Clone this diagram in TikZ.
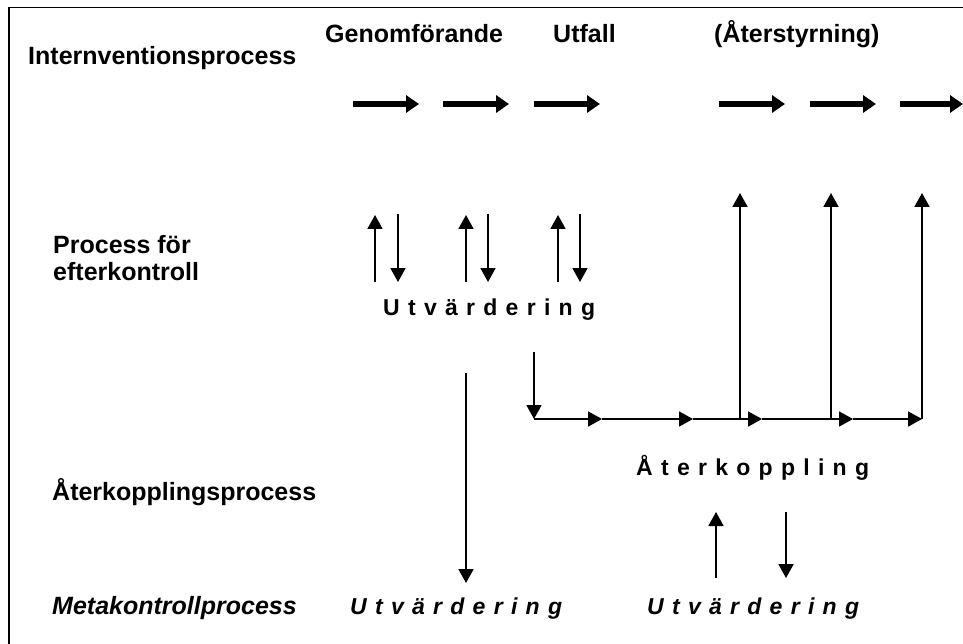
\documentclass[tikz,border=0pt]{standalone}
\usepackage{fontspec}
\setmainfont{Liberation Sans}
\newfontfamily\spacedfont[LetterSpace=36]{Liberation Sans}
\usetikzlibrary{arrows.meta}
\begin{document}
\begin{tikzpicture}[x=1pt,y=-1pt,
  lbl/.style={anchor=base west, inner sep=0pt, font=\fontsize{25}{22}\selectfont\bfseries},
  lblit/.style={anchor=base west, inner sep=0pt, font=\fontsize{25}{22}\selectfont\bfseries\itshape},
  sp/.style={anchor=base west, inner sep=0pt, font=\spacedfont\fontsize{23}{23}\selectfont\bfseries},
  spit/.style={anchor=base west, inner sep=0pt, font=\spacedfont\fontsize{23}{23}\selectfont\bfseries\itshape},
  bigarrow/.style={line width=6pt, -{Triangle[length=13pt,width=17pt]}},
  thinarrow/.style={line width=1.8pt, -{Triangle[length=14pt,width=15pt]}},
  thinline/.style={line width=1.8pt},
  frameline/.style={line width=1.4pt}]
\useasboundingbox (0,0) rectangle (963,644);
% frame
\coordinate (fc) at (9,7.5);
\coordinate (fr) at (963,7.5);
\coordinate (fb) at (9,644);
\draw[frameline] (fr) -- (fc) -- (fb);
% labels
\node[lbl] (intv) at (28,65) {Internventionsprocess};
\node[lbl] (genom) at (325,43) {Genomförande};
\node[lbl] (utfall) at (553,43) {Utfall};
\node[lbl] (ater) at (714,43) {(Återstyrning)};
\node[lbl] (proc1) at (53,254) {Process för};
\node[lbl] (proc2) at (53,280) {efterkontroll};
\node[lbl] (akp) at (52,500) {Återkopplingsprocess};
\node[lblit] (meta) at (52,614) {Metakontrollprocess};
\node[sp] (utv) at (383,315) {Utvärdering};
\node[sp] (atk) at (636,475) {Återkoppling};
\node[spit] (utv2) at (350,614) {Utvärdering};
\node[spit] (utv3) at (647,614) {Utvärdering};
% thick arrows
\foreach \n/\a/\b in {1/353/419,2/443/509,3/534/600,4/719/785,5/810/876,6/900/963}{
  \coordinate (ta\n) at (\a,104);
  \coordinate (tb\n) at (\b,104);
  \draw[bigarrow] (ta\n) -- (tb\n);
}
% up/down pairs
\foreach \n/\u/\d in {1/375/398,2/466/488,3/558/580}{
  \coordinate (ua\n) at (\u,282);
  \coordinate (ub\n) at (\u,215);
  \coordinate (da\n) at (\d,214);
  \coordinate (db\n) at (\d,282);
  \draw[thinarrow] (ua\n) -- (ub\n);
  \draw[thinarrow] (da\n) -- (db\n);
}
% long down arrow to meta
\coordinate (ld0) at (466,373);
\coordinate (ld1) at (466,583);
\draw[thinarrow] (ld0) -- (ld1);
% feedback chain
\coordinate (d0) at (534,352);
\coordinate (h0) at (534,419);
\coordinate (h1) at (602,419);
\coordinate (h2) at (693,419);
\coordinate (v1) at (740,419);
\coordinate (h3) at (762,419);
\coordinate (v2) at (831,419);
\coordinate (h4) at (853,419);
\coordinate (h5) at (922,419);
\coordinate (t1) at (740,193);
\coordinate (t2) at (831,193);
\coordinate (t3) at (922,193);
\draw[thinarrow] (d0) -- (h0);
\draw[thinarrow] (h0) -- (h1);
\draw[thinarrow] (h1) -- (h2);
\draw[thinline] (h2) -- (v1);
\draw[thinarrow] (v1) -- (h3);
\draw[thinline] (h3) -- (v2);
\draw[thinarrow] (v2) -- (h4);
\draw[thinarrow] (h4) -- (h5);
\draw[thinarrow] (v1) -- (t1);
\draw[thinarrow] (v2) -- (t2);
\draw[thinarrow] (h5) -- (t3);
% bottom pair
\coordinate (bu0) at (716,578);
\coordinate (bu1) at (716,512);
\coordinate (bd0) at (786,512);
\coordinate (bd1) at (786,578);
\draw[thinarrow] (bu0) -- (bu1);
\draw[thinarrow] (bd0) -- (bd1);
\end{tikzpicture}
\end{document}
